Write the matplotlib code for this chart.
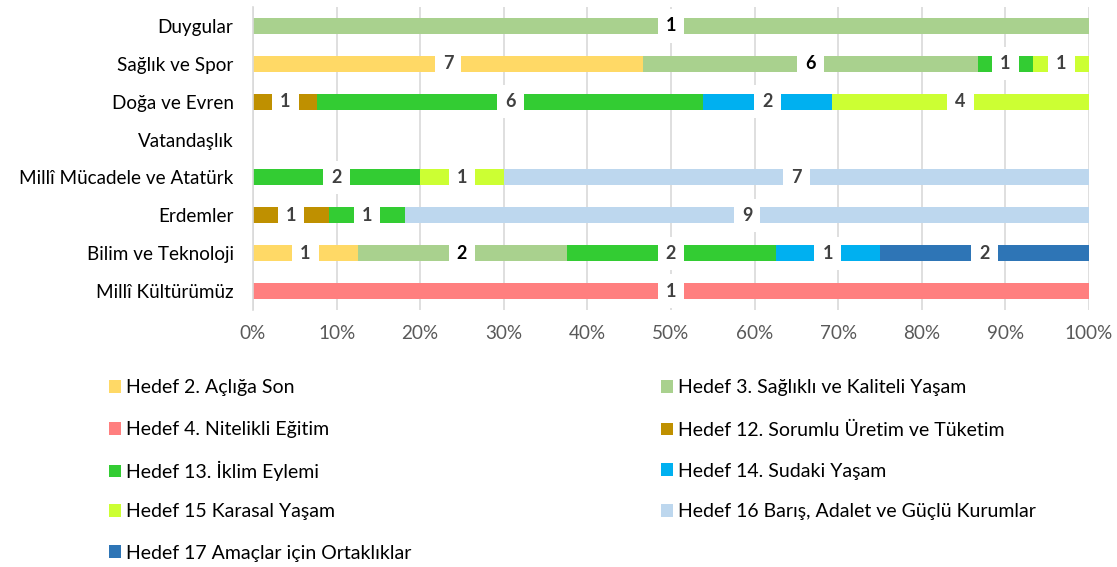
import matplotlib
matplotlib.use("Agg")
import matplotlib.pyplot as plt
from matplotlib.patches import Patch
import numpy as np

plt.rcParams['font.family'] = ['Lato', 'DejaVu Sans']

categories = ["Duygular", "Sağlık ve Spor", "Doğa ve Evren", "Vatandaşlık",
              "Millî Mücadele ve Atatürk", "Erdemler", "Bilim ve Teknoloji",
              "Millî Kültürümüz"]

series_names = ["Hedef 2. Açlığa Son", "Hedef 3. Sağlıklı ve Kaliteli Yaşam",
                "Hedef 4. Nitelikli Eğitim", "Hedef 12. Sorumlu Üretim ve Tüketim",
                "Hedef 13. İklim Eylemi", "Hedef 14. Sudaki Yaşam",
                "Hedef 15 Karasal Yaşam", "Hedef 16 Barış, Adalet ve Güçlü Kurumlar",
                "Hedef 17 Amaçlar için Ortaklıklar"]

hedef2 = [0, 7, 0, 0, 0, 0, 1, 0]
hedef3 = [1, 6, 0, 0, 0, 0, 2, 0]
hedef4 = [0, 0, 0, 0, 0, 0, 0, 1]
hedef12 = [0, 0, 1, 0, 0, 1, 0, 0]
hedef13 = [0, 1, 6, 0, 2, 1, 2, 0]
hedef14 = [0, 0, 2, 0, 0, 0, 1, 0]
hedef15 = [0, 1, 4, 0, 1, 0, 0, 0]
hedef16 = [0, 0, 0, 0, 7, 9, 0, 0]
hedef17 = [0, 0, 0, 0, 0, 0, 2, 0]

colors = ["#FFD966", "#A9D18E", "#FF7F7F", "#BF9000", "#33CC33",
          "#00B0F0", "#CCFF33", "#BDD7EE", "#2E75B6"]
label_colors = ["#404040", "#000000", "#404040", "#404040", "#404040",
                "#404040", "#404040", "#404040", "#404040"]

data = np.array([hedef2, hedef3, hedef4, hedef12, hedef13, hedef14,
                 hedef15, hedef16, hedef17], dtype=float)
totals = data.sum(axis=0)
safe_tot = np.where(totals == 0, 1, totals)
pct = data / safe_tot * 100

fig = plt.figure(figsize=(11.17, 5.67), dpi=100)
ax = fig.add_axes([253 / 1117, 1 - 310 / 567, (1089 - 253) / 1117, (310 - 7) / 567])

y = np.arange(len(categories))
left = np.zeros(len(categories))
for i, name in enumerate(series_names):
    ax.barh(y, pct[i], left=left, height=0.42, color=colors[i], label=name, zorder=2)
    for j in range(len(categories)):
        if data[i, j] > 0:
            ax.text(left[j] + pct[i, j] / 2, y[j], f"{int(data[i, j])}",
                    ha="center", va="center", fontsize=13, fontweight="bold",
                    color=label_colors[i], zorder=4,
                    bbox=dict(boxstyle="square,pad=0.45", fc="white", ec="none"))
    left += pct[i]

ax.set_xlim(0, 100)
ax.set_ylim(len(categories) - 0.5, -0.5)
ax.set_yticks(y)
ax.set_yticklabels(categories, fontsize=13.6, color="#000000")
ax.set_xticks(np.arange(0, 101, 10))
ax.set_xticklabels([f"{v}%" for v in range(0, 101, 10)], fontsize=13.6, color="#595959")
ax.tick_params(axis="both", length=0)
ax.tick_params(axis="x", pad=11)
ax.tick_params(axis="y", pad=14)
ax.grid(axis="x", color="#D9D9D9", linewidth=1.2, zorder=0)
ax.set_axisbelow(True)
for s in ["top", "right", "bottom"]:
    ax.spines[s].set_visible(False)
ax.spines["left"].set_color("#D9D9D9")
ax.spines["left"].set_linewidth(1.2)

# legend: row-wise, two columns
row_y = [388, 430, 471, 512, 553]
col_x = [109, 661]
for k, name in enumerate(series_names):
    r, c = divmod(k, 2)
    leg = fig.legend([Patch(facecolor=colors[k], edgecolor="none")], [name],
                     frameon=False, fontsize=14, handlelength=0.6, handleheight=0.6,
                     handletextpad=0.3, borderpad=0, borderaxespad=0,
                     loc="center left",
                     bbox_to_anchor=(col_x[c] / 1117, 1 - row_y[r] / 567))
    for t in leg.get_texts():
        t.set_color("#000000")

fig.savefig("out.png", dpi=100)
